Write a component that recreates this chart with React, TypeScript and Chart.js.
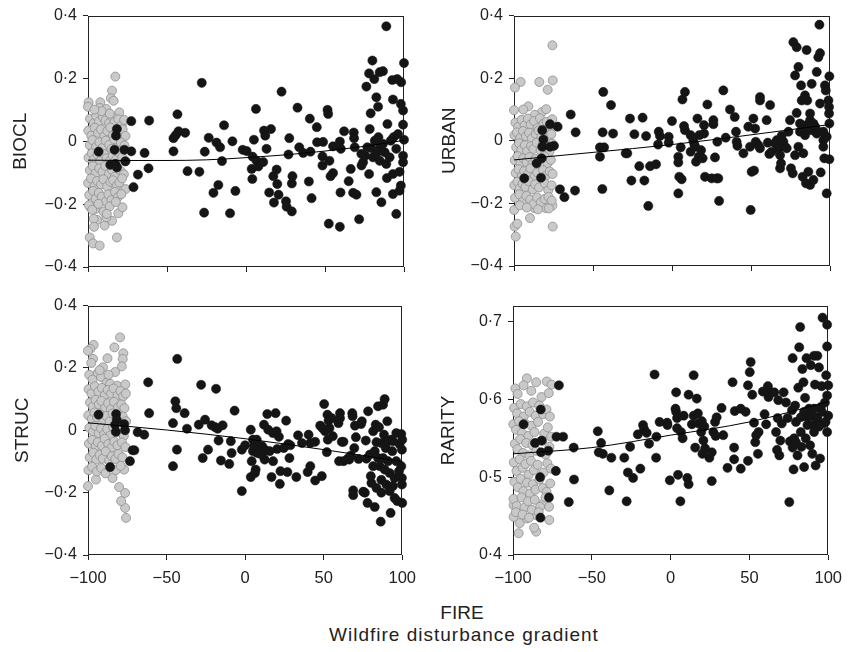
import React, { useEffect, useRef } from "react";
import { Chart, registerables } from "chart.js";
Chart.register(...registerables);

type P = [number, number];

const FONT = "'Liberation Sans', Arial, Helvetica, sans-serif";

const xTicks = [-100, -50, 0, 50, 100];
const xTickLabels = ["\u2212100", "\u221250", "0", "50", "100"];
const diffTicks = [-0.4, -0.2, 0, 0.2, 0.4];
const diffTickLabels = ["\u22120\u00b74", "\u22120\u00b72", "0", "0\u00b72", "0\u00b74"];
const rarityTicks = [0.4, 0.5, 0.6, 0.7];
const rarityTickLabels = ["0\u00b74", "0\u00b75", "0\u00b76", "0\u00b77"];

const xAxisTitle = "FIRE";
const xAxisSubtitle = "Wildfire disturbance gradient";

// ---------- BIOCL ----------
const bioclBlack: P[] = [
  [-93.3, -0.033], [-81.7, 0.039], [-82.3, 0.018], [-83.2, -0.027], [-85.9, -0.075], [-82.7, -0.072], [-81.7, -0.083], [-77, -0.027],
  [-76.4, -0.064], [-72.6, 0.064], [-72.6, -0.032], [-71.2, -0.146], [-68.4, -0.106], [-64.2, -0.037], [-61.3, 0.066], [-61.7, -0.086],
  [-45.9, -0.032], [-45.9, 0.01], [-44.4, 0.02], [-43.4, 0.086], [-42.7, 0.032], [-38.5, 0.027], [-37, -0.095], [-29.5, -0.097],
  [-28, 0.186], [-26.5, -0.227], [-26.1, -0.033], [-23.6, 0.011], [-20.6, -0.164], [-17.5, -0.139], [-18.7, -0.004], [-16.4, -0.019],
  [-15.2, -0.063], [-13.9, 0.051], [-10.1, -0.229], [-8.6, 0], [-6.7, -0.158], [-2.1, -0.027], [0.4, -0.031], [3.6, -0.088],
  [4, -0.12], [4.2, -0.049], [5, 0.005], [6.3, 0.103], [6.7, -0.062], [7.8, -0.08], [10.9, -0.066], [11.4, 0.034], [12.2, 0.018],
  [13, -0.024], [14.7, -0.163], [15.8, 0.039], [17.3, -0.111], [17.7, -0.195], [19.4, -0.09], [19.8, -0.136], [20.6, -0.17],
  [22.5, 0.158], [25.3, -0.191], [25.7, -0.208], [26.9, -0.042], [27.4, 0.01], [29, -0.134], [29, -0.223], [29.4, -0.111],
  [32.6, 0.107], [33.7, -0.019], [36.2, -0.037], [39.8, -0.128], [40.4, 0.072], [40.8, -0.033], [41.5, -0.181], [44.8, 0.045],
  [45, -0.003], [48.8, -0.002], [48.4, -0.048], [48.4, -0.077], [51.6, 0.1], [52, 0.087], [52.4, -0.262], [52.8, -0.062],
  [53.5, -0.111], [55.1, -0.101], [55.1, -0.016], [59.4, -0.001], [59.8, -0.163], [59.4, -0.272], [60, -0.024], [62.1, 0.032],
  [65, -0.127], [66.3, -0.088], [67.8, -0.164], [68.2, 0.028], [68.4, 0.01], [68.8, -0.019], [69.9, -0.17], [71.6, -0.248],
  [73.1, -0.077], [74.1, -0.067], [76.2, 0.174], [76.8, -0.019], [77.9, 0.216], [78.3, 0.039], [78.9, 0.089], [80, 0.257],
  [81.2, 0.198], [82.5, 0.14], [83.6, 0.11], [83.8, 0.013], [84.6, 0.22], [86.7, 0.223], [88.8, 0.366], [87.8, -0.035],
  [84.6, -0.062], [82.5, -0.162], [85.7, -0.194], [89.2, -0.117], [89.5, 0.055], [92.6, 0.195], [93, 0.133], [93.4, 0.013],
  [95.1, -0.231], [93, -0.168], [95.7, 0.198], [98.2, 0.188], [100, 0.249], [99.4, 0.098], [98, 0.119], [99.4, 0.053],
  [100, 0.005], [99.4, -0.046], [99.4, -0.067], [97.2, -0.097], [98, -0.141], [97.2, -0.157], [95.1, -0.024], [90.9, -0.051],
  [80.4, -0.051], [79.4, -0.022], [81.5, 0.002], [82.5, -0.04], [85, -0.019], [86.7, -0.008], [88.8, -0.072], [91.6, 0.002],
  [93, -0.104], [96.2, 0.023], [75.5, -0.046], [73, -0.04], [77.9, -0.104],
];
const bioclGrey: P[] = [
  [-99.6, 0.124], [-100, 0.11], [-92.2, 0.124], [-92.6, 0.106], [-88.4, 0.103], [-80.2, 0.092], [-82.7, 0.206], [-84.8, 0.161],
  [-85.5, 0.137], [-83.8, 0.129], [-81.7, -0.306], [-98.9, -0.306], [-96.8, -0.325], [-92.6, -0.332], [-94.3, -0.25], [-89.5, -0.268],
  [-84.8, -0.253], [-88.4, -0.242], [-80.8, -0.229], [-78.2, -0.21], [-96.4, -0.247], [-98.5, -0.21], [-95.2, -0.215],
  [-98.7, 0.072], [-96.3, 0.058], [-94.8, 0.081], [-93.1, 0.063], [-90.6, 0.077], [-88.9, 0.066], [-86.7, 0.058], [-84.9, 0.079],
  [-83.2, 0.061], [-80.8, 0.07], [-78.6, 0.052], [-77.1, 0.068], [-99.8, 0.034], [-97.9, 0.018], [-95.7, 0.043], [-93.6, 0.027],
  [-91.8, 0.038], [-89.7, 0.016], [-87.8, 0.033], [-85.9, 0.044], [-84.2, 0.019], [-81.9, 0.031], [-79.7, 0.024], [-78.1, 0.038],
  [-76.3, 0.017], [-98.9, -0.012], [-97.2, 0.004], [-94.9, -0.018], [-92.8, -0.003], [-91.1, -0.022], [-88.8, 0.002], [-86.6, -0.011],
  [-85.1, -0.024], [-83.4, 0.006], [-80.6, -0.017], [-79.2, -0.004], [-76.9, -0.013], [-99.7, -0.052], [-97.6, -0.038], [-96.1, -0.057],
  [-93.9, -0.043], [-92.3, -0.063], [-89.8, -0.041], [-88.2, -0.054], [-86.1, -0.062], [-84.3, -0.046], [-82.2, -0.058], [-79.8, -0.039],
  [-78.3, -0.051], [-76.1, -0.063], [-98.8, -0.092], [-96.9, -0.079], [-95.3, -0.103], [-92.9, -0.086], [-90.8, -0.097], [-89.1, -0.078],
  [-86.8, -0.104], [-84.7, -0.091], [-83.1, -0.113], [-81.2, -0.084], [-79.1, -0.096], [-77.3, -0.105], [-99.9, -0.133], [-98.1, -0.118],
  [-95.8, -0.142], [-94.2, -0.126], [-91.7, -0.137], [-90.2, -0.121], [-87.9, -0.144], [-85.8, -0.129], [-84.1, -0.124], [-81.8, -0.141],
  [-80.1, -0.131], [-78.4, -0.118], [-76.2, -0.152], [-99.2, -0.171], [-96.7, -0.158], [-95.1, -0.183], [-93.2, -0.164], [-91.3, -0.176],
  [-88.7, -0.192], [-87.1, -0.169], [-85.2, -0.187], [-82.9, -0.161], [-81.1, -0.178], [-78.9, -0.168], [-99.4, -0.203], [-97.3, -0.218],
  [-93.4, -0.199], [-90.1, -0.224], [-86.3, -0.207], [-82.4, -0.193], [-96.2, -0.272], [-88.1, -0.231], [-91.4, 0.096], [-95.9, 0.101],
  [-86.2, 0.088],
];
const bioclTrend: P[] = [[-100, -0.06], [-75, -0.061], [-50, -0.061], [-25, -0.059], [0, -0.052], [25, -0.043], [50, -0.031], [75, -0.016], [100, 0.003]];

// ---------- URBAN ----------
const urbanBlack: P[] = [
  [-82.1, 0.034], [-81.4, 0.004], [-82.1, -0.019], [-82.5, -0.056], [-85.7, -0.072], [-82.9, -0.118], [-93.5, -0.12], [-77.2, 0.053],
  [-77.2, -0.019], [-74.7, -0.016], [-72.4, 0.045], [-70.9, -0.155], [-68.1, -0.18], [-64.1, 0.084], [-61.4, -0.159], [-61, 0.027],
  [-45.6, -0.051], [-45.6, -0.021], [-43.5, 0.156], [-43.9, 0.027], [-43, -0.021], [-44.1, -0.154], [-38.6, 0.114], [-37.3, 0.023],
  [-29.3, -0.04], [-28.3, -0.04], [-26.6, 0.071], [-25.7, -0.127], [-23.8, 0.021], [-20.7, -0.081], [-18.6, 0.074], [-17.5, -0.127],
  [-16.4, 0.015], [-15, -0.208], [-13.9, -0.081], [-10.1, -0.075], [-8.4, 0.029], [-8.8, -0.012], [-7.6, 0.015], [-2.1, 0.013],
  [-2.1, -0.006], [0, 0.063], [4, -0.051], [4, -0.069], [4, -0.168], [4.6, -0.115], [5.5, -0.021], [6.1, -0.123], [6.6, 0.132],
  [7.6, 0.047], [8.2, 0.156], [8.2, 0.034], [11.8, 0.018], [11.8, -0.035], [13.5, -0.001], [14.2, -0.012], [14.6, -0.019],
  [15.2, -0.067], [16.1, 0.071], [16.9, -0.051], [17.3, 0.018], [18.4, -0.03], [19.4, -0.056], [20.3, 0.05], [20.3, 0.023],
  [20.9, -0.115], [22.4, 0.116], [25.1, -0.12], [26.2, 0.066], [26.2, 0.053], [27.2, -0.053], [28.3, -0.12], [28.7, -0.003],
  [29.3, -0.12], [29.8, -0.192], [32.5, 0.161], [34, 0.01], [36.7, 0.1], [39.7, 0.076], [40.5, 0.029], [40.9, -0.003],
  [41.4, -0.016], [45.2, -0.04], [48.3, 0.045], [49.4, -0.019], [49.8, -0.221], [50.4, -0.099], [51.5, 0.071], [51.9, -0.095],
  [52.6, 0.039], [53, -0.003], [54.7, -0.014], [55.7, 0.14], [55.7, 0.129], [55.7, -0.024], [59.9, 0.066], [60.6, -0.006],
  [61.6, -0.042], [62.1, 0.114], [63.1, -0.035], [65.2, -0.008], [66.3, 0.002], [67.3, -0.024], [68.4, -0.046], [68.4, -0.088],
  [69, -0.072], [69.4, 0.016], [70.5, -0.003], [71.5, -0.019], [72.6, -0.024], [73.7, 0.029], [74.7, 0.066], [75.3, -0.088],
  [76.4, -0.104], [76.8, 0.315], [77.9, 0.209], [78.9, 0.299], [78.9, 0.089], [80, 0.236], [81, 0.029], [81.7, 0.177],
  [82.1, 0.129], [82.7, -0.115], [83.1, -0.04], [84.2, 0.145], [84.8, -0.136], [85.2, 0.29], [85.6, 0.129], [86.3, -0.099],
  [87.4, -0.141], [88.4, 0.182], [89.5, -0.125], [91.6, 0.22], [92.6, 0.267], [93.3, 0.371], [93.7, 0.28], [93.7, 0.119],
  [94.1, -0.101], [95.8, 0.002], [95.8, -0.019], [96.4, -0.056], [96.8, 0.177], [97.3, 0.161], [97.9, -0.168], [99, 0.129],
  [99.6, 0.206], [99.4, 0.087], [99.6, 0.055], [99.6, -0.059], [97.9, 0.013], [95.8, 0.029], [99.4, 0.108], [81, 0.055],
  [83.1, 0.039], [85.2, 0.05], [87.4, 0.066], [88.4, 0.034], [89.5, 0.055], [90.6, 0.045], [91.6, 0.023], [84.2, 0.018],
  [86.3, 0.039], [87.4, 0.087], [92.6, 0.029], [80, -0.019], [77.9, -0.046],
];
const urbanGrey: P[] = [
  [-75.7, 0.305], [-75.5, 0.193], [-78.7, 0.163], [-84, 0.188], [-95.8, 0.188], [-99.4, 0.17], [-100, 0.098], [-90.9, 0.11],
  [-94.1, 0.1], [-99.6, -0.274], [-97.9, -0.265], [-98.9, -0.306], [-89.9, -0.247], [-75.5, -0.274], [-79.9, -0.215], [-87.1, -0.215],
  [-75.7, -0.207], [-82.3, 0.092], [-79.6, 0.101], [-86.8, 0.083],
  [-99.1, 0.058], [-97.4, 0.044], [-95.2, 0.067], [-93.3, 0.049], [-91.2, 0.071], [-89.4, 0.052], [-87.3, 0.063], [-85.1, 0.041],
  [-83.6, 0.072], [-81.3, 0.055], [-79.4, 0.061], [-77.2, 0.047], [-75.8, 0.069], [-99.7, 0.018], [-98.2, 0.027], [-96.1, 0.009],
  [-94.3, 0.031], [-92.4, 0.014], [-90.5, 0.026], [-88.6, 0.008], [-86.2, 0.022], [-84.4, 0.033], [-82.7, 0.012], [-80.3, 0.028],
  [-78.6, 0.006], [-76.4, 0.021], [-98.6, -0.021], [-96.8, -0.008], [-95.4, -0.029], [-93.1, -0.014], [-91.6, -0.033], [-89.2, -0.017],
  [-87.7, -0.026], [-85.6, -0.006], [-83.2, -0.031], [-81.8, -0.012], [-79.1, -0.024], [-77.6, -0.035], [-75.9, -0.009], [-99.5, -0.062],
  [-97.7, -0.049], [-95.9, -0.071], [-94.1, -0.056], [-92.1, -0.068], [-90.2, -0.052], [-88.3, -0.074], [-86.4, -0.058], [-84.6, -0.066],
  [-80.9, -0.049], [-78.8, -0.072], [-76.7, -0.061], [-98.9, -0.103], [-97.1, -0.091], [-95.1, -0.112], [-93.6, -0.097], [-91.4, -0.108],
  [-89.6, -0.088], [-87.2, -0.115], [-85.3, -0.101], [-81.6, -0.094], [-79.6, -0.111], [-77.4, -0.098], [-75.6, -0.106], [-99.8, -0.142],
  [-97.8, -0.131], [-96.4, -0.152], [-94.6, -0.137], [-92.7, -0.147], [-90.8, -0.129], [-88.1, -0.155], [-86.6, -0.139], [-84.2, -0.149],
  [-80.4, -0.136], [-78.3, -0.158], [-76.2, -0.142], [-99.3, -0.182], [-96.6, -0.171], [-94.4, -0.194], [-92.2, -0.176], [-89.8, -0.188],
  [-87.6, -0.202], [-85.4, -0.181], [-83.1, -0.197], [-80.7, -0.186], [-78.2, -0.179], [-76.1, -0.191], [-99.9, -0.221], [-96.3, -0.206],
  [-91.9, -0.213], [-84.8, -0.219], [-77.9, -0.216],
];
const urbanTrend: P[] = [[-100, -0.061], [-50, -0.037], [0, -0.012], [50, 0.019], [100, 0.052]];

// ---------- STRUC ----------
const strucBlack: P[] = [
  [-93.3, 0.05], [-85.9, -0.118], [-82.1, 0.052], [-81.7, 0.034], [-82.7, 0.018], [-82.3, -0.005], [-77, 0.02], [-76.4, 0],
  [-73.3, -0.099], [-71.6, -0.064], [-70.5, -0.064], [-68.4, -0.006], [-64.2, -0.014], [-61.7, 0.154], [-61.1, 0.055], [-45.9, 0.023],
  [-45.9, -0.115], [-44.4, 0.093], [-43.8, 0.071], [-43.2, 0.229], [-43.4, -0.062], [-38.5, 0.055], [-37, 0.005], [-29.5, 0.018],
  [-28, 0.146], [-27, -0.089], [-25.5, 0.034], [-23.6, -0.062], [-21.3, 0.016], [-18.5, 0.133], [-19, 0.01], [-17.5, 0.005],
  [-16.9, -0.033], [-15.4, -0.097], [-14.3, 0.016], [-10.1, -0.108], [-9.1, -0.035], [-8.6, -0.073], [-6.7, 0.063], [-2.1, -0.195],
  [-2.1, -0.062], [0, -0.048], [3.6, 0.002], [3.6, -0.15], [4.2, -0.099], [5, -0.03], [5, -0.067], [5.7, -0.051], [6.3, -0.137],
  [6.7, -0.126], [7.4, -0.03], [7.8, -0.073], [10.3, -0.078], [10.9, -0.051], [12, 0.018], [12.4, -0.094], [13, -0.064],
  [14.1, 0.052], [14.7, 0.002], [15.6, -0.067], [16.8, -0.15], [17.7, -0.009], [17.8, -0.099], [19.4, 0.055], [20, -0.003],
  [20.4, -0.06], [21.5, -0.021], [22.1, -0.172], [22.5, -0.131], [24.6, -0.057], [26.1, 0.031], [26.9, -0.134], [27.4, -0.044],
  [28.2, -0.089], [28.8, -0.048], [32.6, -0.15], [33.7, -0.016], [36.2, -0.041], [39.8, -0.134], [40.4, -0.014], [41.5, -0.115],
  [41.5, -0.041], [44.6, -0.037], [44.6, -0.161], [47.8, 0.015], [48.8, -0.147], [49.2, 0.007], [50.3, 0.084], [50.9, -0.003],
  [52, -0.07], [52.4, 0.05], [53.1, 0.031], [52.6, -0.03], [53.7, 0.007], [55.1, 0.039], [55.8, -0.019], [59.4, 0.023],
  [59.8, -0.099], [60.4, 0.055], [60.4, 0.039], [61.5, -0.037], [62.6, -0.037], [62.6, -0.099], [65.3, -0.091], [66.3, -0.094],
  [67.3, -0.081], [68.2, 0.055], [68.4, 0.045], [68.8, -0.208], [68.8, -0.193], [69.5, -0.057], [69.9, 0.015], [70.5, -0.022],
  [72.2, -0.092], [73.8, 0.02], [74.3, 0.029], [75.2, -0.197], [76.2, -0.2], [76.8, -0.033], [77.2, -0.091], [78.3, 0.061],
  [77.9, -0.233], [80, -0.147], [79.4, -0.078], [80.4, -0.169], [82.5, -0.246], [83.1, 0.018], [83.6, -0.038], [84.6, 0.077],
  [85.2, 0.01], [85.7, -0.115], [86.3, -0.293], [86.7, -0.159], [87.8, 0.082], [88.4, -0.014], [88.8, 0.1], [89.5, -0.057],
  [89.9, -0.174], [90.5, 0.029], [91, -0.099], [92, -0.137], [92.6, -0.265], [93, -0.03], [93.7, -0.067], [94.1, -0.179],
  [95.1, -0.217], [96.2, -0.099], [96.8, -0.227], [97.9, -0.131], [98.3, -0.044], [99.4, -0.012], [99.8, -0.062], [99.8, -0.153],
  [99.8, -0.174], [100, -0.233], [99.4, -0.115], [100, -0.03], [81.5, -0.003], [82.5, -0.067], [84.6, -0.089], [86.7, -0.041],
  [87.8, -0.089], [88.8, -0.126], [91, -0.035], [94.1, -0.035], [96.2, -0.009], [92, -0.195], [86.7, -0.2], [83.6, -0.185],
  [81.5, -0.115], [95.1, -0.153],
];
const strucGrey: P[] = [
  [-79.6, 0.298], [-96.4, 0.274], [-98.5, 0.261], [-100, 0.255], [-83.2, 0.266], [-77.5, 0.247], [-77.9, 0.229], [-87.6, 0.231],
  [-96.8, 0.229], [-78.5, 0.205], [-82.7, 0.187], [-90.5, 0.202], [-75.8, -0.281], [-76.4, -0.249], [-78.9, -0.227], [-76.4, -0.201],
  [-80.2, -0.182], [-100, -0.179], [-94.9, -0.158], [-84.4, -0.153], [-77, -0.126],
  [-99.2, 0.178], [-97.1, 0.163], [-93.8, 0.184], [-91.7, 0.171], [-88.2, 0.152], [-85.9, 0.149], [-81.4, 0.143], [-76.3, 0.147],
  [-99.6, 0.132], [-97.8, 0.118], [-95.6, 0.141], [-93.4, 0.124], [-91.2, 0.136], [-89.3, 0.113], [-87.4, 0.129], [-85.3, 0.118],
  [-83.7, 0.134], [-81.2, 0.112], [-79.4, 0.126], [-77.6, 0.109], [-75.9, 0.118], [-98.7, 0.089], [-96.9, 0.076], [-95.2, 0.098],
  [-93.1, 0.083], [-91.4, 0.094], [-89.1, 0.072], [-87.2, 0.087], [-85.4, 0.068], [-83.4, 0.091], [-80.8, 0.074], [-78.7, 0.083],
  [-76.8, 0.071], [-99.8, 0.048], [-97.6, 0.036], [-95.9, 0.057], [-94.2, 0.041], [-92.3, 0.052], [-90.2, 0.034], [-88.4, 0.046],
  [-86.3, 0.028], [-84.3, 0.054], [-80.4, 0.037], [-77.9, 0.044], [-75.7, 0.029], [-99.1, 0.008], [-96.8, -0.004], [-95.4, 0.014],
  [-93.2, -0.009], [-91.7, 0.006], [-89.6, -0.012], [-87.8, 0.004], [-85.7, -0.016], [-84.1, 0.011], [-79.6, -0.007], [-77.2, -0.018],
  [-99.4, -0.043], [-97.3, -0.031], [-95.1, -0.052], [-93.7, -0.038], [-91.1, -0.049], [-89.4, -0.027], [-87.1, -0.044], [-85.2, -0.057],
  [-83.3, -0.036], [-81.3, -0.048], [-78.4, -0.039], [-76.2, -0.054], [-98.9, -0.087], [-96.6, -0.072], [-94.7, -0.094], [-92.6, -0.079],
  [-90.6, -0.091], [-88.7, -0.068], [-86.6, -0.098], [-84.8, -0.083], [-82.6, -0.092], [-80.6, -0.076], [-78.1, -0.087], [-99.7, -0.128],
  [-97.4, -0.117], [-94.3, -0.132], [-91.6, -0.121], [-88.9, -0.138], [-86.1, -0.119], [-82.3, -0.128], [-79.2, -0.114], [-97.9, 0.216],
  [-92.6, 0.193], [-86.9, 0.178],
];
const strucTrend: P[] = [[-100, 0.024], [-50, 0.001], [0, -0.027], [50, -0.062], [100, -0.1]];

// ---------- RARITY ----------
const rarityBlack: P[] = [
  [-93.3, 0.568], [-82.8, 0.5], [-82.6, 0.448], [-82.4, 0.587], [-81.8, 0.547], [-86, 0.544], [-82.2, 0.532], [-77.6, 0.534],
  [-77.2, 0.474], [-72.8, 0.508], [-72.4, 0.552], [-70.9, 0.618], [-68.2, 0.552], [-64.6, 0.468], [-61.5, 0.538], [-61.3, 0.497],
  [-46.2, 0.559], [-45.6, 0.532], [-44.1, 0.544], [-43, 0.53], [-37.6, 0.525], [-38.9, 0.483], [-29.4, 0.525], [-27.9, 0.469],
  [-27.1, 0.506], [-25.7, 0.539], [-23.8, 0.499], [-19.2, 0.511], [-20.8, 0.555], [-17.5, 0.567], [-16.9, 0.562], [-15.2, 0.557],
  [-13.7, 0.543], [-10.2, 0.632], [-9.2, 0.525], [-9, 0.552], [-7, 0.571], [-2.2, 0.57], [-2, 0.567], [-0.5, 0.496],
  [3.5, 0.609], [3.1, 0.588], [3.5, 0.584], [4.1, 0.563], [4.1, 0.576], [4.7, 0.503], [6.2, 0.469], [6.6, 0.558], [7.6, 0.55],
  [8.3, 0.579], [10.6, 0.499], [11.4, 0.491], [11.4, 0.606], [13.5, 0.568], [14.6, 0.631], [14.6, 0.579], [15.6, 0.538],
  [16.6, 0.601], [17.3, 0.582], [17.7, 0.569], [19.4, 0.558], [19.8, 0.572], [20.2, 0.53], [20.8, 0.547], [21.4, 0.565],
  [21.9, 0.537], [24.6, 0.525], [26.1, 0.495], [26.1, 0.532], [27.1, 0.558], [28.2, 0.571], [28.6, 0.553], [29.2, 0.577],
  [32.3, 0.589], [33.4, 0.554], [36.1, 0.512], [39.3, 0.622], [40.3, 0.538], [40.3, 0.523], [40.7, 0.585], [44.5, 0.588],
  [44.5, 0.511], [47.6, 0.584], [49.1, 0.618], [49.1, 0.521], [50.2, 0.635], [50.8, 0.648], [51.8, 0.606], [52.9, 0.57],
  [53.7, 0.545], [54.3, 0.554], [55.4, 0.53], [55.8, 0.558], [58.5, 0.61], [59.6, 0.581], [60.6, 0.568], [61.7, 0.617],
  [62.1, 0.603], [63.8, 0.609], [65.8, 0.609], [66.9, 0.558], [67.5, 0.535], [67.9, 0.576], [68.3, 0.599], [69, 0.528],
  [69.6, 0.547], [70.5, 0.569], [71.7, 0.609], [73.2, 0.596], [74.2, 0.576], [75.3, 0.468], [75.7, 0.546], [77, 0.586],
  [77.4, 0.653], [77.4, 0.538], [78, 0.51], [78.4, 0.55], [79, 0.592], [79.5, 0.571], [80.5, 0.528], [81, 0.615], [81.6, 0.667],
  [82.2, 0.693], [82.6, 0.577], [83, 0.539], [83.6, 0.639], [84.3, 0.622], [84.7, 0.513], [85.3, 0.602], [86.2, 0.653],
  [86.8, 0.567], [87.8, 0.588], [88.5, 0.541], [88.9, 0.644], [89.9, 0.53], [91, 0.656], [91.6, 0.619], [92, 0.515],
  [92.7, 0.575], [93.1, 0.656], [94.1, 0.641], [94.8, 0.524], [95.2, 0.59], [95.8, 0.617], [96.4, 0.705], [96.8, 0.569],
  [97.9, 0.596], [98.7, 0.631], [99.3, 0.696], [99.3, 0.668], [99.3, 0.558], [100, 0.618], [100, 0.579], [99.3, 0.605],
  [98.3, 0.571], [84.7, 0.584], [86.8, 0.577], [88.9, 0.579], [91, 0.588], [93.1, 0.577], [89.9, 0.567], [94.1, 0.565],
  [96, 0.584], [82.6, 0.558], [85.7, 0.55], [79.5, 0.545], [91, 0.558],
];
const rarityGrey: P[] = [
  [-91.2, 0.627], [-85.3, 0.622], [-78.6, 0.623], [-98.5, 0.614], [-93.3, 0.618], [-75.5, 0.619], [-96.4, 0.428], [-85.3, 0.43],
  [-86.6, 0.435], [-77, 0.445], [-95.8, 0.441], [-91.2, 0.447], [-99.6, 0.449], [-84.9, 0.451], [-80.7, 0.466], [-99.6, 0.464],
  [-97.1, 0.607], [-88.4, 0.611], [-81.9, 0.603], [-77.3, 0.608],
  [-99.3, 0.589], [-97.4, 0.582], [-95.1, 0.594], [-93.2, 0.578], [-91.3, 0.591], [-89.4, 0.584], [-87.3, 0.596], [-85.6, 0.579],
  [-83.4, 0.592], [-80.9, 0.581], [-78.8, 0.587], [-76.6, 0.578], [-99.8, 0.568], [-98.1, 0.561], [-96.2, 0.572], [-94.3, 0.557],
  [-92.4, 0.569], [-90.3, 0.553], [-88.2, 0.566], [-86.4, 0.558], [-84.1, 0.571], [-80.2, 0.556], [-77.9, 0.564], [-75.8, 0.552],
  [-98.8, 0.543], [-97.2, 0.536], [-95.4, 0.549], [-93.6, 0.531], [-91.6, 0.544], [-89.7, 0.528], [-87.6, 0.541], [-85.2, 0.534],
  [-81.4, 0.547], [-79.3, 0.529], [-76.9, 0.539], [-99.5, 0.519], [-97.8, 0.508], [-95.8, 0.523], [-93.9, 0.512], [-92.1, 0.517],
  [-90.1, 0.503], [-88.6, 0.521], [-86.8, 0.509], [-84.4, 0.516], [-80.6, 0.506], [-78.2, 0.518], [-75.9, 0.511], [-99.1, 0.494],
  [-96.9, 0.487], [-95.2, 0.498], [-93.4, 0.482], [-91.1, 0.493], [-89.2, 0.479], [-87.4, 0.491], [-85.7, 0.484], [-83.2, 0.497],
  [-81.1, 0.486], [-78.7, 0.481], [-76.4, 0.492], [-99.7, 0.472], [-97.6, 0.463], [-94.6, 0.474], [-92.7, 0.461], [-90.4, 0.469],
  [-88.1, 0.458], [-86.2, 0.471], [-82.8, 0.462], [-79.4, 0.474], [-77.1, 0.462], [-98.2, 0.455], [-93.9, 0.452], [-89.8, 0.448],
  [-83.7, 0.455],
];
const rarityTrend: P[] = [[-100, 0.53], [-50, 0.538], [0, 0.554], [50, 0.571], [100, 0.597]];

// ---------- rendering ----------
type Spec = {
  title: string;
  black: P[];
  grey: P[];
  trend: P[];
  yMin: number;
  yMax: number;
  yTicks: number[];
  yLabels: string[];
  showX: boolean;
  left: number;
  top: number;
  w: number;
  h: number;
  area: { l: number; t: number; r: number; b: number };
  titlePad: number;
};

const toXY = (arr: P[]) => arr.map(([x, y]) => ({ x, y }));

const framePlugin = {
  id: "frame",
  beforeDatasetsDraw(chart: any) {
    const { ctx, chartArea } = chart;
    const l = Math.round(chartArea.left) + 0.5;
    const t = Math.round(chartArea.top) + 0.5;
    const r = Math.round(chartArea.right) - 0.5;
    const b = Math.round(chartArea.bottom) - 0.5;
    ctx.save();
    ctx.strokeStyle = "#222";
    ctx.lineWidth = 1;
    ctx.strokeRect(l, t, r - l, b - t);
    ctx.restore();
  },
};

function Panel({ spec }: { spec: Spec }) {
  const ref = useRef<HTMLCanvasElement>(null);
  useEffect(() => {
    const s = spec;
    const chart = new Chart(ref.current as HTMLCanvasElement, {
      type: "scatter",
      data: {
        datasets: [
          {
            type: "line",
            data: toXY(s.trend),
            borderColor: "#000",
            borderWidth: 1,
            pointRadius: 0,
            fill: false,
            cubicInterpolationMode: "monotone",
            clip: false,
          } as any,
          {
            data: toXY(s.black),
            backgroundColor: "#151515",
            borderColor: "#151515",
            borderWidth: 0.5,
            pointRadius: 4.6,
            clip: false,
          } as any,
          {
            data: toXY(s.grey),
            backgroundColor: "#c9c9c9",
            borderColor: "#8e8e8e",
            borderWidth: 0.8,
            pointRadius: 4.5,
            clip: false,
          } as any,
        ],
      },
      options: {
        responsive: false,
        animation: false,
        events: [],
        layout: { padding: { top: s.area.t, right: s.w - s.area.r, left: 0, bottom: 0 } },
        plugins: { legend: { display: false }, tooltip: { enabled: false } },
        scales: {
          x: {
            type: "linear",
            min: -100,
            max: 100,
            border: { display: false },
            grid: { drawOnChartArea: false, drawTicks: true, tickLength: 5, color: "#222", lineWidth: 1 },
            ticks: {
              display: s.showX,
              font: { family: FONT, size: 16.5 },
              color: "#222",
              padding: 9,
              maxRotation: 0,
              autoSkip: false,
              callback: (_v: any, i: number) => xTickLabels[i],
            },
            afterBuildTicks: (sc: any) => {
              sc.ticks = xTicks.map((v) => ({ value: v }));
            },
            afterFit: (sc: any) => {
              sc.height = s.h - s.area.b;
            },
          },
          y: {
            type: "linear",
            min: s.yMin,
            max: s.yMax,
            border: { display: false },
            grid: { drawOnChartArea: false, drawTicks: true, tickLength: 5, color: "#222", lineWidth: 1 },
            ticks: {
              font: { family: FONT, size: 16 },
              color: "#222",
              padding: 6,
              autoSkip: false,
              callback: (_v: any, i: number) => s.yLabels[i],
            },
            afterBuildTicks: (sc: any) => {
              sc.ticks = s.yTicks.map((v) => ({ value: v }));
            },
            afterFit: (sc: any) => {
              sc.width = s.area.l;
            },
            title: {
              display: true,
              text: s.title,
              font: { family: FONT, size: 19 },
              color: "#222",
              padding: { top: s.titlePad, bottom: 0 },
            },
          },
        },
      } as any,
      plugins: [framePlugin],
    });
    return () => chart.destroy();
  }, [spec]);
  return (
    <div style={{ position: "absolute", left: spec.left, top: spec.top, width: spec.w, height: spec.h }}>
      <canvas ref={ref} width={spec.w} height={spec.h} style={{ width: spec.w, height: spec.h, display: "block" }} />
    </div>
  );
}

const specs: Spec[] = [
  {
    title: "BIOCL", black: bioclBlack, grey: bioclGrey, trend: bioclTrend,
    yMin: -0.4, yMax: 0.4, yTicks: diffTicks, yLabels: diffTickLabels, showX: false,
    left: 0, top: 0, w: 425, h: 290, area: { l: 88, t: 15, r: 404, b: 267 }, titlePad: 9,
  },
  {
    title: "URBAN", black: urbanBlack, grey: urbanGrey, trend: urbanTrend,
    yMin: -0.4, yMax: 0.4, yTicks: diffTicks, yLabels: diffTickLabels, showX: false,
    left: 425, top: 0, w: 426, h: 290, area: { l: 89, t: 15, r: 405, b: 266 }, titlePad: 13,
  },
  {
    title: "STRUC", black: strucBlack, grey: strucGrey, trend: strucTrend,
    yMin: -0.4, yMax: 0.4, yTicks: diffTicks, yLabels: diffTickLabels, showX: true,
    left: 0, top: 290, w: 425, h: 310, area: { l: 88, t: 15, r: 404, b: 265 }, titlePad: 11,
  },
  {
    title: "RARITY", black: rarityBlack, grey: rarityGrey, trend: rarityTrend,
    yMin: 0.4, yMax: 0.72, yTicks: rarityTicks, yLabels: rarityTickLabels, showX: true,
    left: 425, top: 290, w: 426, h: 310, area: { l: 88, t: 16, r: 406, b: 265 }, titlePad: 12,
  },
];

export default function App() {
  return (
    <div style={{ position: "absolute", left: 0, top: 0, width: 851, height: 652, background: "#fff", overflow: "hidden", fontFamily: FONT }}>
      {specs.map((s) => (
        <Panel key={s.title} spec={s} />
      ))}
      <div style={{ position: "absolute", left: 262, width: 400, top: 602, textAlign: "center", fontSize: 19, lineHeight: "22px", color: "#222" }}>
        {xAxisTitle}
      </div>
      <div style={{ position: "absolute", left: 264, width: 400, top: 624, textAlign: "center", fontSize: 19, lineHeight: "22px", letterSpacing: "1px", color: "#222" }}>
        {xAxisSubtitle}
      </div>
    </div>
  );
}
